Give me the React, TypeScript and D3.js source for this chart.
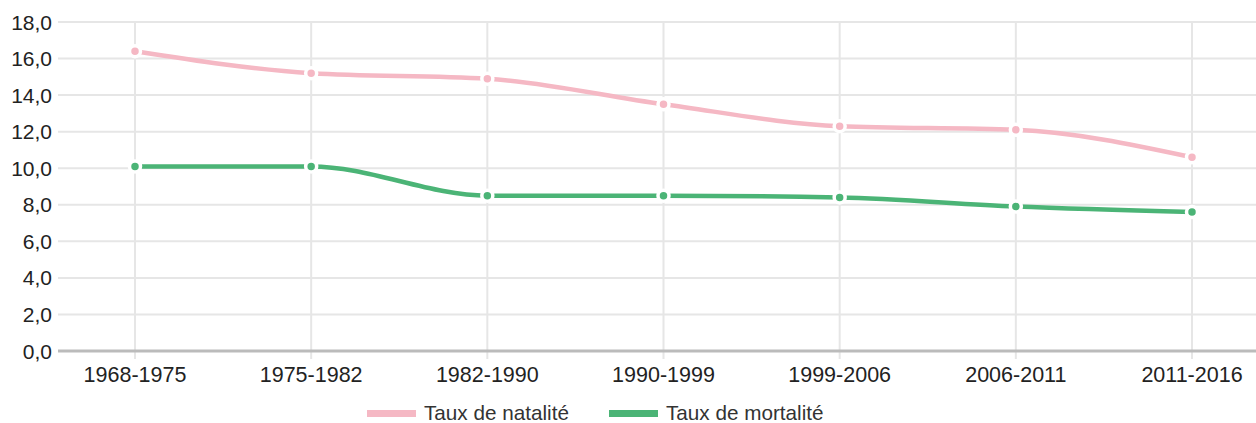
import React from 'react';
import * as d3 from 'd3';

const periods = ['1968-1975', '1975-1982', '1982-1990', '1990-1999', '1999-2006', '2006-2011', '2011-2016'];
const natalite = [16.4, 15.2, 14.9, 13.5, 12.3, 12.1, 10.6];
const mortalite = [10.1, 10.1, 8.5, 8.5, 8.4, 7.9, 7.6];
const yTicks = [0, 2, 4, 6, 8, 10, 12, 14, 16, 18];

const series = [
  { name: 'Taux de natalité', values: natalite, color: '#f5b8c4' },
  { name: 'Taux de mortalité', values: mortalite, color: '#4bb476' },
];

const width = 1256;
const height = 423;
const plotLeft = 58;
const plotRight = 1256;
const font = 'Arial, "Liberation Sans", sans-serif';

export default function App() {
  const x = d3.scalePoint<string>().domain(periods).range([135, 1192]);
  const y = d3.scaleLinear().domain([0, 18]).range([351, 22]);

  const line = d3
    .line<number>()
    .x((_, i) => x(periods[i]) as number)
    .y(d => y(d))
    .curve(d3.curveMonotoneX);

  const fmt = (v: number) => v.toFixed(1).replace('.', ',');

  return (
    <svg
      width={width}
      height={height}
      style={{ position: 'absolute', left: 0, top: 0, display: 'block' }}
    >
      {/* horizontal grid */}
      {yTicks.filter(t => t > 0).map(t => (
        <line key={t} x1={plotLeft} x2={plotRight} y1={y(t)} y2={y(t)} stroke="#e6e6e6" strokeWidth={2} />
      ))}
      {/* vertical grid */}
      {periods.map(p => (
        <line key={p} x1={x(p)} x2={x(p)} y1={y(18)} y2={359} stroke="#e6e6e6" strokeWidth={2} />
      ))}
      {/* baseline */}
      <line x1={plotLeft} x2={plotRight} y1={y(0)} y2={y(0)} stroke="#bbbbbb" strokeWidth={3} />

      {/* y labels */}
      {yTicks.map(t => (
        <text key={t} x={52} y={y(t)} dy="0.36em" textAnchor="end" fontFamily={font} fontSize={21} fill="#222">
          {fmt(t)}
        </text>
      ))}
      {/* x labels */}
      {periods.map(p => (
        <text key={p} x={x(p)} y={382} textAnchor="middle" fontFamily={font} fontSize={21.5} fill="#222">
          {p}
        </text>
      ))}

      {/* lines */}
      {series.map(s => (
        <g key={s.name}>
          <path d={line(s.values) || ''} fill="none" stroke={s.color} strokeWidth={4.5} />
          {s.values.map((v, i) => (
            <circle
              key={i}
              cx={x(periods[i])}
              cy={y(v)}
              r={5.5}
              fill={s.color}
              stroke="#fff"
              strokeWidth={3.5}
            />
          ))}
        </g>
      ))}

      {/* legend */}
      <g fontFamily={font} fontSize={20.7} fill="#333">
        <rect x={367} y={410} width={49} height={7} fill={series[0].color} />
        <text x={424} y={420}>{series[0].name}</text>
        <rect x={609} y={410} width={49} height={7} fill={series[1].color} />
        <text x={666} y={420}>{series[1].name}</text>
      </g>
    </svg>
  );
}
